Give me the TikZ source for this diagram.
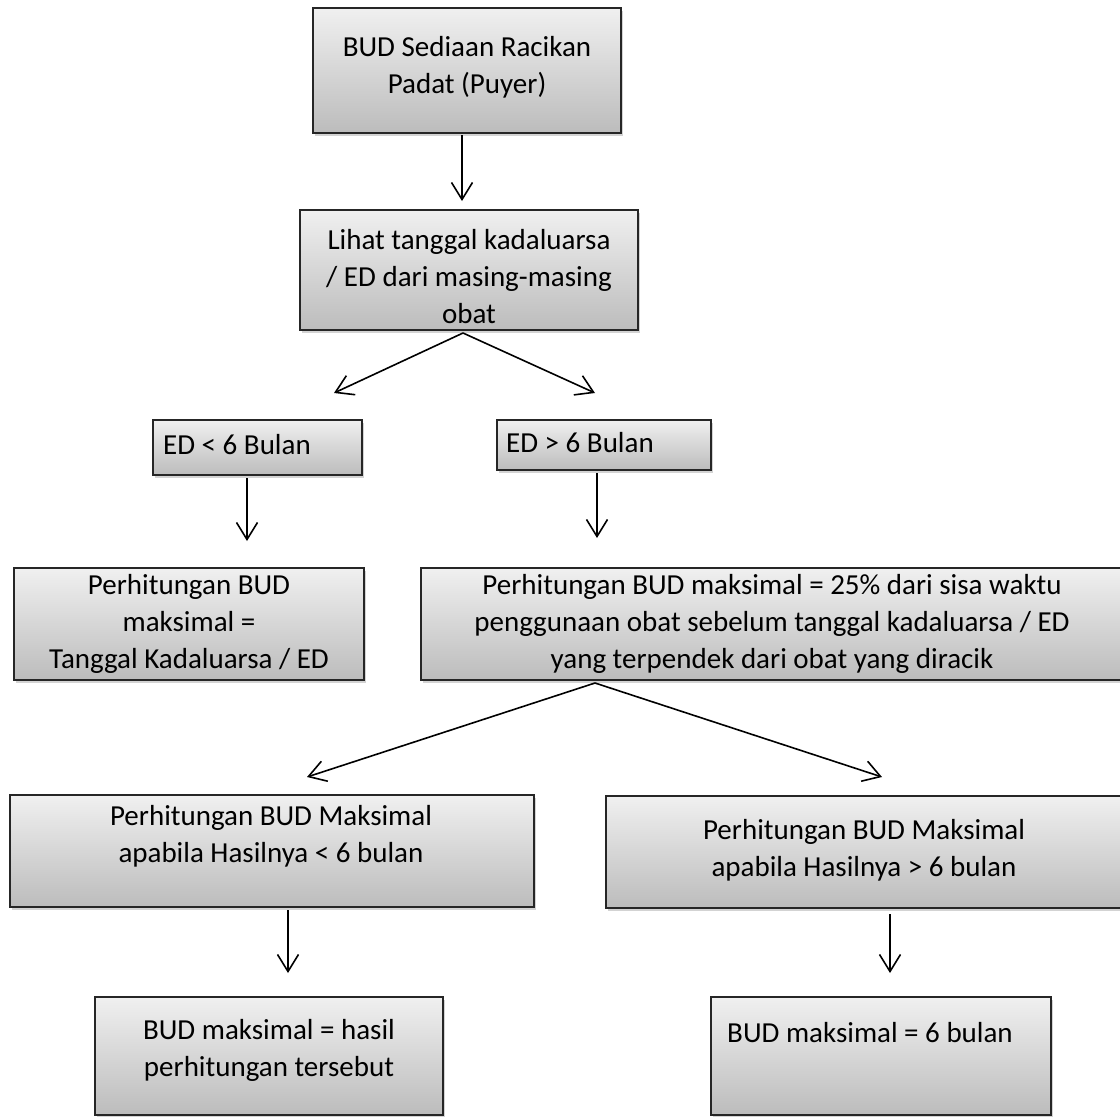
\documentclass[tikz,border=0pt]{standalone}
\usepackage{fontspec}
\setmainfont{Carlito}
\usetikzlibrary{arrows.meta,shadows}
\definecolor{boxtop}{RGB}{240,240,240}
\definecolor{boxbot}{RGB}{188,188,188}
\begin{document}
\begin{tikzpicture}[x=1pt,y=-1pt,
  box/.style={draw=black!85, line width=1.6pt, inner sep=0pt, rectangle,
    top color=boxtop, bottom color=boxbot,
    drop shadow={shadow xshift=2pt, shadow yshift=-3pt, opacity=0.35}},
  txt/.style={align=center, inner sep=0pt, font=\fontsize{29}{37}\selectfont},
  link/.style={line width=1.6pt, -{Straight Barb[length=17pt,width=21pt,line width=1.6pt]}}]
\useasboundingbox (0,0) rectangle (1120,1117);

% boxes
\node[box, minimum width=308pt, minimum height=125pt] (start) at (467,70.5) {};
\node[txt] (tstart) at (467,67) {BUD Sediaan Racikan\\Padat (Puyer)};

\node[box, minimum width=338pt, minimum height=120pt] (look) at (469,270) {};
\node[txt] (tlook) at (469,277) {Lihat tanggal kadaluarsa\\/ ED dari masing-masing\\obat};

\node[box, minimum width=209pt, minimum height=55pt] (lt) at (257.5,447.5) {};
\node[txt, anchor=west] (tlt) at (163,445) {ED < 6 Bulan};

\node[box, minimum width=214pt, minimum height=50pt] (gt) at (604,445) {};
\node[txt, anchor=west] (tgt) at (506,443) {ED > 6 Bulan};

\node[box, minimum width=350pt, minimum height=112pt] (calcA) at (189,624) {};
\node[txt] (tcalcA) at (189,624) {Perhitungan BUD\\maksimal =\\Tanggal Kadaluarsa / ED};

\node[box, minimum width=700pt, minimum height=112pt] (calcB) at (771,624) {};
\node[txt] (tcalcB) at (772,624) {Perhitungan BUD maksimal = 25\% dari sisa waktu\\penggunaan obat sebelum tanggal kadaluarsa / ED\\yang terpendek dari obat yang diracik};

\node[box, minimum width=524pt, minimum height=112pt] (less) at (272,851) {};
\node[txt] (tless) at (271,836) {Perhitungan BUD Maksimal\\apabila Hasilnya < 6 bulan};

\node[box, minimum width=516pt, minimum height=112pt] (more) at (864,852) {};
\node[txt] (tmore) at (864,850) {Perhitungan BUD Maksimal\\apabila Hasilnya > 6 bulan};

\node[box, minimum width=348pt, minimum height=118pt] (resA) at (269,1056) {};
\node[txt] (tresA) at (269,1050) {BUD maksimal = hasil\\perhitungan tersebut};

\node[box, minimum width=340pt, minimum height=118pt] (resB) at (881,1056) {};
\node[txt] (tresB) at (870,1033) {BUD maksimal = 6 bulan};

% arrow ends
\coordinate (s1) at (462,135);  \coordinate (e1) at (462,201);
\coordinate (sp1) at (463,333);
\coordinate (e2) at (334,393);  \coordinate (e3) at (595,393);
\coordinate (s4) at (247,478);  \coordinate (e4) at (247,541);
\coordinate (s5) at (597,473);  \coordinate (e5) at (597,538);
\coordinate (sp2) at (595,683);
\coordinate (e6) at (307,777);  \coordinate (e7) at (882,777);
\coordinate (s8) at (288,910);  \coordinate (e8) at (288,973);
\coordinate (s9) at (890,914);  \coordinate (e9) at (890,973);

% connectors
\draw[link] (s1) -- (e1);
\draw[link] (sp1) -- (e2);
\draw[link] (sp1) -- (e3);
\draw[link] (s4) -- (e4);
\draw[link] (s5) -- (e5);
\draw[link] (sp2) -- (e6);
\draw[link] (sp2) -- (e7);
\draw[link] (s8) -- (e8);
\draw[link] (s9) -- (e9);
\end{tikzpicture}
\end{document}
